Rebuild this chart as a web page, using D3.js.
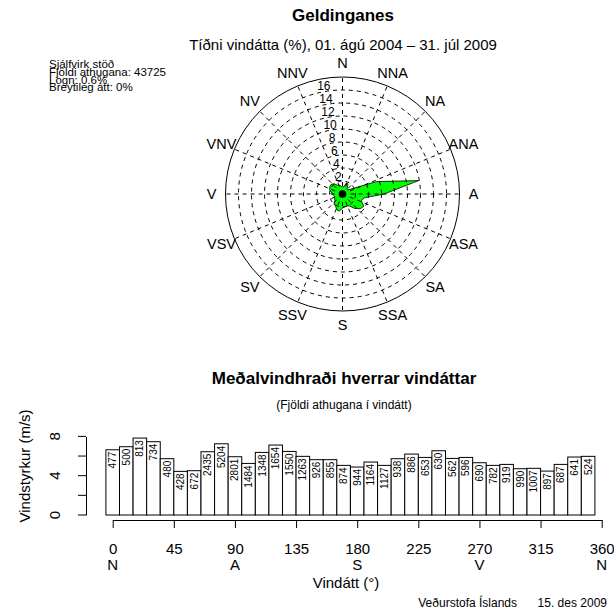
<!DOCTYPE html>
<html>
<head>
<meta charset="utf-8">
<script src="https://cdn.jsdelivr.net/npm/d3@7"></script>
<style>
  body { margin: 0; background: #fff; }
  svg { font-family: "Liberation Sans", Arial, Helvetica, sans-serif; }
</style>
</head>
<body>
<div id="graphic"></div>
<script>
// Data
var directions = d3.range(0, 360, 10);
var counts = [477, 500, 813, 734, 480, 428, 672, 2435, 5204, 2801, 1484, 1348,
  1654, 1550, 1263, 926, 855, 874, 944, 1164, 1127, 938, 886, 653,
  630, 562, 596, 690, 782, 919, 990, 1007, 897, 687, 641, 524];
var meanSpeed = [6.64, 6.95, 7.83, 7.46, 5.73, 4.44, 4.51, 6.44, 7.25, 5.93, 5.25, 6.37,
  7.12, 6.47, 5.97, 5.63, 5.63, 5.05, 4.88, 5.39, 5.05, 5.73, 6.2, 5.86,
  6.54, 5.76, 5.86, 5.32, 5.05, 5.15, 4.71, 4.75, 4.47, 5.15, 5.9, 5.97];
var totalObs = 43725;
var compassNames = ["N", "NNA", "NA", "ANA", "A", "ASA", "SA", "SSA",
  "S", "SSV", "SV", "VSV", "V", "VNV", "NV", "NNV"];
var ringValues = [2, 4, 6, 8, 10, 12, 14, 16];
var xTicks = [0, 45, 90, 135, 180, 225, 270, 315, 360];
var xNameTicks = [0, 90, 180, 270, 360];
var xNames = ["N", "A", "S", "V", "N"];
var yTicks = [0, 2, 4, 6, 8];
var yLabelled = [0, 4, 8];
var infoLines = ["Sjálfvirk stöð", "Fjöldi athugana: 43725", "Logn: 0.6%", "Breytileg átt: 0%"];

(function(d3) {
  var W = 614, H = 616;
  var svg = d3.select("#graphic").append("svg")
      .attr("width", W)
      .attr("height", H);

  // Titles
  svg.append("text")
      .attr("x", 343).attr("y", 15).attr("dy", "0.35em")
      .attr("text-anchor", "middle")
      .style("font-weight", "bold").style("font-size", "17px")
      .text("Geldinganes");

  svg.append("text")
      .attr("x", 343).attr("y", 45).attr("dy", "0.35em")
      .attr("text-anchor", "middle")
      .style("font-size", "15px")
      .text("Tíðni vindátta (%), 01. ágú 2004 – 31. júl 2009");

  // Station info, lines packed tight as in the original
  svg.append("g").selectAll("text")
      .data(infoLines)
    .enter().append("text")
      .attr("x", 49)
      .attr("y", function(d, i) { return 64 + i * 7.8; })
      .attr("dy", "0.35em")
      .style("font-size", "11.5px")
      .text(function(d) { return d; });

  // Wind rose
  // ---------------------------------------------------------------------------
  var cx = 342.5, cy = 194;
  var r = d3.scaleLinear().domain([0, 18]).range([0, 117]);
  var rose = svg.append("g").attr("transform", "translate(" + cx + "," + cy + ")");

  var freq = counts.map(function(c) { return c / totalObs * 100; });

  var line = d3.lineRadial()
      .angle(function(d, i) { return directions[i] * Math.PI / 180; })
      .radius(function(d) { return r(d); })
      .curve(d3.curveLinearClosed);

  rose.append("path")
      .attr("d", line(freq))
      .attr("fill", "#00ff00")
      .attr("stroke", "#000")
      .attr("stroke-width", 0.8);

  // Grid drawn over the rose
  rose.append("g").selectAll("circle")
      .data(ringValues)
    .enter().append("circle")
      .attr("r", function(d) { return r(d); })
      .attr("fill", "none")
      .attr("stroke", "#000")
      .attr("stroke-dasharray", "4,4");

  rose.append("g").selectAll("line")
      .data(compassNames)
    .enter().append("line")
      .attr("x1", 0).attr("y1", 0)
      .attr("x2", function(d, i) { return r(18) * Math.sin(i * 22.5 * Math.PI / 180); })
      .attr("y2", function(d, i) { return -r(18) * Math.cos(i * 22.5 * Math.PI / 180); })
      .attr("stroke", "#000")
      .attr("stroke-dasharray", "4,4");

  rose.append("circle")
      .attr("r", r(18))
      .attr("fill", "none")
      .attr("stroke", "#000");

  rose.append("circle")
      .attr("r", 3.5)
      .attr("fill", "#000");

  rose.append("g").selectAll("text")
      .data(ringValues)
    .enter().append("text")
      .attr("x", function(d) { return -0.16 * r(d) - 2; })
      .attr("y", function(d) { return -r(d) - 4; })
      .attr("dy", "0.35em")
      .attr("text-anchor", "middle")
      .style("font-size", "12px")
      .text(function(d) { return d; });

  rose.append("g").selectAll("text")
      .data(compassNames)
    .enter().append("text")
      .attr("x", function(d, i) { return 131 * Math.sin(i * 22.5 * Math.PI / 180); })
      .attr("y", function(d, i) { return -131 * Math.cos(i * 22.5 * Math.PI / 180); })
      .attr("dy", "0.35em")
      .attr("text-anchor", "middle")
      .style("font-size", "14.5px")
      .text(function(d) { return d; });

  // Mean speed bars
  // ---------------------------------------------------------------------------
  var x = d3.scaleLinear().domain([0, 360]).range([112.7, 601.7]);
  var y = d3.scaleLinear().domain([0, 8]).range([515, 436.4]);
  var midX = 344;

  svg.append("text")
      .attr("x", midX).attr("y", 378).attr("dy", "0.35em")
      .attr("text-anchor", "middle")
      .style("font-weight", "bold").style("font-size", "17px")
      .text("Meðalvindhraði hverrar vindáttar");

  svg.append("text")
      .attr("x", midX).attr("y", 405).attr("dy", "0.35em")
      .attr("text-anchor", "middle")
      .style("font-size", "12px")
      .text("(Fjöldi athugana í vindátt)");

  var bars = svg.append("g").selectAll("g")
      .data(directions)
    .enter().append("g");

  bars.append("rect")
      .attr("x", function(d) { return x(d - 5); })
      .attr("width", function(d) { return x(d + 5) - x(d - 5); })
      .attr("y", function(d, i) { return y(meanSpeed[i]); })
      .attr("height", function(d, i) { return y(0) - y(meanSpeed[i]); })
      .attr("fill", "#fff")
      .attr("stroke", "#000");

  bars.append("text")
      .attr("transform", function(d, i) {
        return "translate(" + x(d) + "," + (y(meanSpeed[i]) + 2) + ") rotate(-90)"; })
      .attr("dy", "0.35em")
      .attr("text-anchor", "end")
      .style("font-size", "10px")
      .text(function(d, i) { return counts[i]; });

  var xAxis = d3.axisBottom(x)
      .tickValues(xTicks)
      .tickSize(8)
      .tickSizeOuter(0)
      .tickPadding(15);

  var gx = svg.append("g")
      .attr("transform", "translate(0,520)")
      .call(xAxis);
  gx.selectAll("text").style("font-size", "15px").attr("fill", "#000");

  svg.append("g").selectAll("text")
      .data(xNameTicks)
    .enter().append("text")
      .attr("x", function(d) { return x(d); })
      .attr("y", 565).attr("dy", "0.35em")
      .attr("text-anchor", "middle")
      .style("font-size", "15px")
      .text(function(d, i) { return xNames[i]; });

  svg.append("text")
      .attr("x", 346).attr("y", 583).attr("dy", "0.35em")
      .attr("text-anchor", "middle")
      .style("font-size", "15px")
      .text("Vindátt (°)");

  var yAxis = d3.axisLeft(y)
      .tickValues(yTicks)
      .tickSize(8)
      .tickSizeOuter(0)
      .tickFormat(function(d) { return yLabelled.indexOf(d) >= 0 ? d : ""; });

  var gy = svg.append("g")
      .attr("transform", "translate(86,0)")
      .call(yAxis);
  gy.selectAll(".tick").attr("transform", null);
  gy.selectAll(".tick line")
      .attr("y1", function(d) { return y(d); })
      .attr("y2", function(d) { return y(d); });
  gy.selectAll("text")
      .style("font-size", "15px")
      .attr("fill", "#000")
      .attr("text-anchor", "middle")
      .attr("x", 0).attr("y", 0)
      .attr("dy", "0.35em")
      .attr("transform", function(d) { return "translate(-31," + y(d) + ") rotate(-90)"; });

  svg.append("text")
      .attr("transform", "translate(25,466) rotate(-90)")
      .attr("dy", "0.35em")
      .attr("text-anchor", "middle")
      .style("font-size", "15px")
      .text("Vindstyrkur (m/s)");

  svg.append("text")
      .attr("x", 517).attr("y", 603).attr("dy", "0.35em")
      .attr("text-anchor", "end")
      .style("font-size", "12px")
      .text("Veðurstofa Íslands");

  svg.append("text")
      .attr("x", 607).attr("y", 603).attr("dy", "0.35em")
      .attr("text-anchor", "end")
      .style("font-size", "12px")
      .text("15. des 2009");
})(d3);
</script>
</body>
</html>
